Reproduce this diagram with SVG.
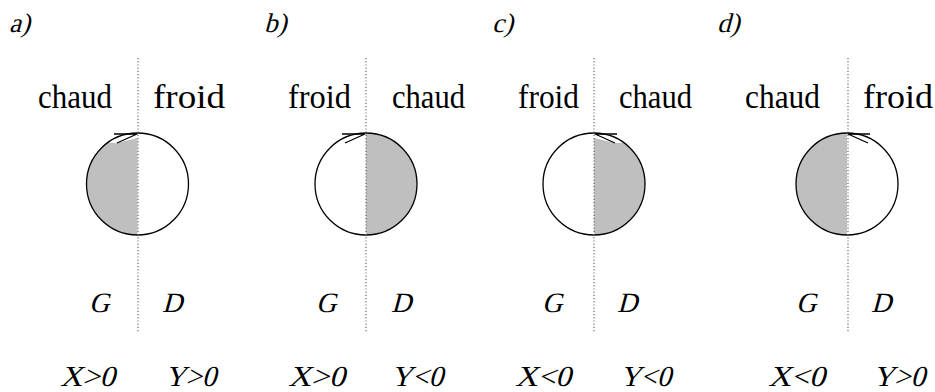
<svg xmlns="http://www.w3.org/2000/svg" width="935" height="392" viewBox="0 0 935 392">
<style>
text{font-family:'Liberation Serif','Times New Roman',Times,serif;fill:#000}
.t{font-size:34px}
.lab{font-size:27px}
.gd{font-size:28px}
.xy{font-size:29px}
.dot{stroke:#666;stroke-width:1.2;stroke-dasharray:1.2 2;fill:none}
.ring{fill:none;stroke:#000;stroke-width:1.3}
.gray{fill:#bfbfbf;stroke:none}
.arr{fill:none;stroke:#000;stroke-width:1.3;stroke-linejoin:miter}
</style>
<rect width="935" height="392" fill="#fff"/>
<g id="panel-a">
<text class="lab" transform="translate(9,32) skewX(-15)">a)</text>
<text class="t" x="38" y="108" textLength="74" lengthAdjust="spacingAndGlyphs">chaud</text>
<text class="t" x="153" y="108" textLength="72" lengthAdjust="spacingAndGlyphs">froid</text>
<path class="gray" d="M137.5,138 L117,143 L108,142.4 A51,51 0 0,0 137.5,235 Z"/>
<circle class="ring" cx="137.5" cy="184" r="51"/>
<line class="dot" x1="138" y1="58" x2="138" y2="333"/>
<path class="arr" d="M114,134 L137,134 L117,143"/>
<text class="gd" transform="translate(89,312) skewX(-15)">G</text>
<text class="gd" transform="translate(162,312) skewX(-15)">D</text>
<text class="xy" transform="translate(60,386) skewX(-15)" textLength="55" lengthAdjust="spacingAndGlyphs">X&gt;0</text>
<text class="xy" transform="translate(165,386) skewX(-15)" textLength="51" lengthAdjust="spacingAndGlyphs">Y&gt;0</text>
</g>
<g id="panel-b">
<text class="lab" transform="translate(264,32) skewX(-15)">b)</text>
<text class="t" x="288" y="108" textLength="63" lengthAdjust="spacingAndGlyphs">froid</text>
<text class="t" x="392" y="108" textLength="73" lengthAdjust="spacingAndGlyphs">chaud</text>
<path class="gray" d="M366,133 A51,51 0 0,1 366,235 Z"/>
<circle class="ring" cx="366" cy="184" r="51"/>
<line class="dot" x1="366" y1="58" x2="366" y2="333"/>
<path class="arr" d="M342,134 L365,134 L345,143"/>
<text class="gd" transform="translate(316,312) skewX(-15)">G</text>
<text class="gd" transform="translate(391,312) skewX(-15)">D</text>
<text class="xy" transform="translate(288,386) skewX(-15)" textLength="57" lengthAdjust="spacingAndGlyphs">X&gt;0</text>
<text class="xy" transform="translate(391,386) skewX(-15)" textLength="52" lengthAdjust="spacingAndGlyphs">Y&lt;0</text>
</g>
<g id="panel-c">
<text class="lab" transform="translate(492,32) skewX(-15)">c)</text>
<text class="t" x="518" y="108" textLength="61" lengthAdjust="spacingAndGlyphs">froid</text>
<text class="t" x="619" y="108" textLength="73" lengthAdjust="spacingAndGlyphs">chaud</text>
<path class="gray" d="M594,138 L615,143 L624,142.8 A51,51 0 0,1 594,235 Z"/>
<circle class="ring" cx="594" cy="184" r="51"/>
<line class="dot" x1="594" y1="58" x2="594" y2="333"/>
<path class="arr" d="M617,134 L595,134 L615,143"/>
<text class="gd" transform="translate(542,312) skewX(-15)">G</text>
<text class="gd" transform="translate(617,312) skewX(-15)">D</text>
<text class="xy" transform="translate(515,386) skewX(-15)" textLength="56" lengthAdjust="spacingAndGlyphs">X&lt;0</text>
<text class="xy" transform="translate(620,386) skewX(-15)" textLength="51" lengthAdjust="spacingAndGlyphs">Y&lt;0</text>
</g>
<g id="panel-d">
<text class="lab" transform="translate(717,32) skewX(-15)">d)</text>
<text class="t" x="745" y="108" textLength="75" lengthAdjust="spacingAndGlyphs">chaud</text>
<text class="t" x="863" y="108" textLength="70" lengthAdjust="spacingAndGlyphs">froid</text>
<path class="gray" d="M847,133 A51,51 0 0,0 847,235 Z"/>
<circle class="ring" cx="847" cy="184" r="51"/>
<line class="dot" x1="848" y1="58" x2="848" y2="333"/>
<path class="arr" d="M870,134 L848,134 L868,143"/>
<text class="gd" transform="translate(796,312) skewX(-15)">G</text>
<text class="gd" transform="translate(871,312) skewX(-15)">D</text>
<text class="xy" transform="translate(768,386) skewX(-15)" textLength="57" lengthAdjust="spacingAndGlyphs">X&lt;0</text>
<text class="xy" transform="translate(873,386) skewX(-15)" textLength="52" lengthAdjust="spacingAndGlyphs">Y&gt;0</text>
</g>
<g id="connectors"></g>
</svg>
